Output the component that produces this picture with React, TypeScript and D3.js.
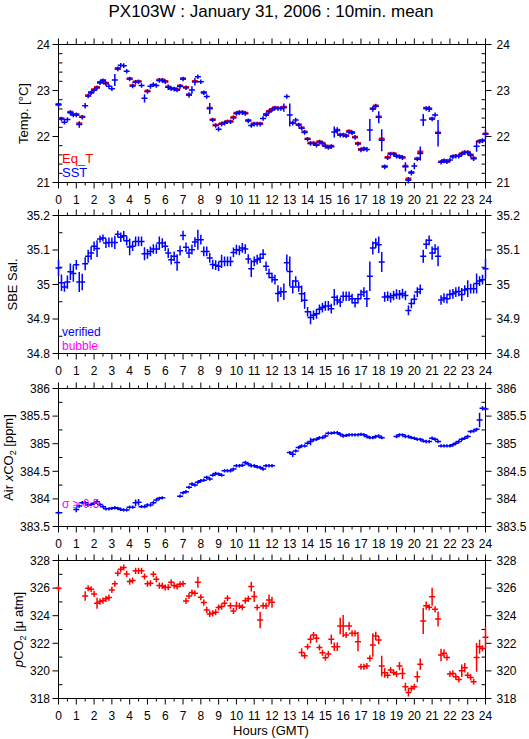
import React from "react";
import * as d3 from "d3";

// ---------- data (10-minute means, index i -> hour i/6) ----------
const STEP_MIN = 10;

const HOUR_TICKS = [0,1,2,3,4,5,6,7,8,9,10,11,12,13,14,15,16,17,18,19,20,21,22,23,24];
const TEMP_TICKS = [21, 22, 23, 24];
const SAL_TICKS = [34.8, 34.9, 35, 35.1, 35.2];
const XCO2_TICKS = [383.5, 384, 384.5, 385, 385.5, 386];
const PCO2_TICKS = [318, 320, 322, 324, 326, 328];

const SST: (number | null)[] = [
  22.69,22.38,22.31,22.37,22.52,22.47,22.47,22.26,22.42,22.67,22.88,22.95,23.01,23.06,23.17,23.21,23.15,23.09,23.04,23.23,
  23.47,23.55,23.54,23.42,23.25,23.10,23.18,23.19,23.11,22.83,22.98,23.09,23.13,23.11,23.22,23.22,23.19,23.07,23.04,23.03,
  23.01,23.09,23.25,23.06,22.90,23.01,23.19,23.30,23.19,22.95,22.87,22.61,22.36,22.24,22.16,22.27,22.29,22.32,22.32,22.41,
  22.50,22.52,22.52,22.50,22.34,22.24,22.27,22.27,22.27,22.39,22.47,22.54,22.58,22.62,22.61,22.61,22.63,22.87,22.47,22.29,
  22.36,22.25,22.18,22.09,21.94,21.85,21.85,21.81,21.88,21.85,21.79,21.76,21.78,22.10,22.13,22.03,22.03,22.01,22.10,22.08,
  21.98,21.84,21.71,21.73,21.72,22.14,22.60,22.66,22.42,21.92,21.34,21.54,21.62,21.62,21.57,21.56,21.54,21.34,21.05,21.21,
  21.36,21.51,21.63,22.36,22.61,22.60,22.38,22.47,22.07,21.44,21.47,21.45,21.49,21.56,21.57,21.57,21.62,21.65,21.65,21.59,
  21.52,21.79,21.89,21.91,22.05,
];
const EQ_T: (number | null)[] = [
  22.70,22.39,null,null,22.53,22.48,22.48,22.28,22.43,null,22.89,22.96,23.02,23.07,23.18,23.22,23.16,null,null,null,
  23.48,null,null,null,23.26,23.11,23.19,23.20,null,null,22.99,null,null,null,23.23,23.23,23.20,23.08,23.05,23.04,
  23.02,23.10,23.26,23.07,22.91,null,23.20,null,null,22.96,null,22.62,22.37,22.25,null,22.28,22.30,22.33,22.33,22.42,
  22.51,22.53,22.53,22.51,22.35,null,22.28,22.28,22.28,null,22.48,22.55,22.59,22.63,22.62,22.62,22.64,null,null,22.30,
  null,22.26,22.19,22.10,21.95,21.86,21.86,21.82,21.89,21.86,21.80,21.77,21.79,null,22.14,22.04,22.04,22.02,22.12,22.09,
  21.99,21.85,21.72,21.74,null,null,22.61,22.67,22.43,21.95,21.35,21.55,21.63,21.63,21.58,21.57,21.55,21.36,21.08,21.22,
  null,21.52,21.67,null,22.62,22.61,22.39,null,22.08,21.45,21.48,21.46,null,21.57,21.58,21.58,21.63,21.66,21.66,21.60,
  21.53,null,21.90,21.92,22.06,
];
const SST_ERR_DEFAULT = 0.05;
const SST_ERR_BIG: [number, number][] = [
  [7,0.07],[9,0.06],[19,0.13],[29,0.09],[37,0.06],[44,0.06],[45,0.08],[46,0.08],[51,0.12],
  [76,0.09],[78,0.25],[93,0.12],[94,0.07],[105,0.24],[106,0.06],[108,0.13],[109,0.24],[117,0.1],
  [118,0.07],[119,0.06],[120,0.07],[122,0.15],[123,0.13],[125,0.07],[128,0.29],[141,0.12],[144,0.1],
];

const SAL: (number | null)[] = [
  35.048,35.005,34.993,35.007,35.037,35.032,35.057,35.007,35.007,35.060,35.082,35.091,35.111,35.104,35.132,35.135,35.120,35.122,35.122,35.122,
  35.146,35.137,35.141,35.127,35.109,35.111,35.125,35.125,35.125,35.089,35.089,35.096,35.103,35.103,35.120,35.120,35.111,35.091,35.072,35.082,
  35.064,35.098,35.142,35.108,35.091,35.101,35.123,35.130,35.130,35.096,35.096,35.077,35.058,35.056,35.053,35.067,35.067,35.067,35.067,35.093,
  35.101,35.099,35.106,35.103,35.074,35.046,35.067,35.072,35.076,35.088,35.053,35.032,35.020,35.014,34.974,34.978,34.979,35.063,35.038,34.993,
  35.010,34.993,34.973,34.954,34.921,34.904,34.911,34.915,34.928,34.933,34.938,34.938,34.930,34.963,34.955,34.949,34.966,34.966,34.966,34.959,
  34.947,34.959,34.971,34.978,34.959,35.024,35.106,35.120,35.115,35.065,34.964,34.966,34.962,34.968,34.972,34.970,34.974,34.968,34.925,34.945,
  34.957,34.978,34.986,35.082,35.117,35.128,35.091,35.103,35.082,34.955,34.961,34.959,34.971,34.973,34.978,34.980,34.971,34.984,34.988,34.988,
  34.988,35.003,35.010,35.014,35.046,
];
const SAL_ERR_DEFAULT = 0.014;
const SAL_ERR_BIG: [number, number][] = [
  [0,0.024],[1,0.024],[3,0.019],[4,0.024],[5,0.024],[7,0.029],[8,0.024],[9,0.019],[10,0.019],[11,0.019],
  [13,0.024],[14,0.01],[15,0.01],[19,0.019],[20,0.01],[24,0.024],[29,0.019],[34,0.019],[40,0.024],[47,0.029],
  [55,0.019],[65,0.024],[74,0.024],[76,0.024],[77,0.024],[78,0.043],[79,0.019],[82,0.024],[83,0.024],[85,0.019],
  [93,0.024],[104,0.024],[105,0.043],[106,0.019],[108,0.024],[109,0.029],[123,0.019],[126,0.019],[128,0.029],
  [136,0.019],[138,0.024],[141,0.029],[144,0.029],
];

const XCO2: (number | null)[] = [
  383.75,null,null,null,null,null,383.81,383.87,383.93,383.93,383.89,383.90,383.92,383.95,383.90,383.86,383.82,383.82,383.83,383.84,
  383.83,383.81,383.80,383.80,383.85,383.85,383.93,383.94,383.86,383.86,383.89,383.89,383.93,383.98,384.01,384.02,null,null,null,null,
  null,384.05,384.11,384.13,384.21,384.27,384.25,384.30,384.33,384.34,384.39,384.36,384.43,384.46,384.45,384.43,384.51,384.51,384.51,384.54,
  384.60,384.60,384.61,384.66,384.63,384.60,384.60,384.58,384.57,384.54,384.60,384.60,384.60,null,null,null,null,null,384.84,384.81,
  384.87,384.93,384.96,384.96,385.01,385.04,385.07,385.08,385.11,385.11,385.14,385.19,385.19,385.20,385.20,385.17,385.14,385.15,385.16,385.16,
  385.16,385.16,385.17,385.16,385.13,385.11,385.11,385.13,385.14,385.11,null,null,null,null,385.13,385.16,385.16,385.13,385.13,385.11,
  385.10,385.08,385.08,385.05,385.04,385.04,385.10,385.08,385.04,384.96,384.96,384.96,384.96,384.98,385.01,385.04,385.08,385.10,385.13,385.22,
  385.23,385.26,385.43,385.64,385.63,
];
const XCO2_ERR_DEFAULT = 0.03;
const XCO2_ERR_BIG: [number, number][] = [
  [6,0.05],[26,0.06],[27,0.06],[79,0.05],[85,0.07],[142,0.13],[143,0.04],
];

const PCO2: (number | null)[] = [
  325.99,null,null,null,null,null,null,null,null,325.43,325.99,325.92,325.58,324.90,325.02,325.09,325.22,325.31,325.87,326.31,
  327.08,327.37,327.49,327.03,326.47,326.55,327.25,327.25,327.25,326.84,326.31,326.35,327.01,326.64,326.18,326.16,326.04,326.06,326.43,326.18,
  326.11,326.28,326.31,325.07,325.43,325.68,325.63,326.43,325.34,324.95,324.42,324.13,324.17,324.25,324.59,324.66,324.90,325.26,324.73,324.34,
  324.71,324.71,324.61,325.09,325.22,326.11,325.39,324.59,323.69,324.73,324.71,325.14,324.97,null,null,null,null,null,null,null,
  null,null,321.34,321.10,321.75,322.29,322.60,322.36,321.70,321.32,320.95,321.22,322.29,321.75,321.75,323.25,323.25,322.60,323.25,322.72,
  322.72,322.12,320.30,320.30,320.35,320.91,321.87,322.53,322.24,320.35,319.86,319.69,320.06,319.89,319.77,320.35,319.82,318.85,318.44,318.73,
  318.85,319.57,320.49,323.62,324.73,324.61,325.38,324.46,323.76,321.15,321.27,320.98,319.77,319.82,319.57,319.38,320.01,320.23,319.69,319.53,
  319.21,320.98,321.75,321.63,322.43,
];
const PCO2_ERR_DEFAULT = 0.22;
const PCO2_ERR_BIG: [number, number][] = [
  [9,0.35],[13,0.4],[47,0.4],[60,0.3],[65,0.35],[66,0.4],[68,0.6],[71,0.4],[72,0.4],[82,0.3],[85,0.3],[87,0.3],
  [92,0.35],[93,0.3],[94,0.3],[95,0.6],[96,0.8],[98,0.3],[101,0.7],[106,0.85],[107,0.3],[108,0.3],[109,0.75],
  [110,0.35],[115,0.3],[116,0.4],[117,0.3],[118,0.3],[121,0.4],[122,0.4],[123,0.95],[124,0.3],[126,0.65],[128,0.55],
  [129,0.45],[130,0.3],[136,0.45],[137,0.35],[141,1.05],[142,0.5],[144,0.8],
];

// ---------- layout ----------
const W = 529, H = 739;
const X0 = 58.5, X1 = 485.5;
const PH = 138;
const TOPS = [44.5, 215.5, 388.5, 560.5];
const FONT = "'Liberation Sans', Arial, Helvetica, sans-serif";
const RED = "#ff0000", BLUE = "#0000ff", MAGENTA = "#ff00ff";

const x = d3.scaleLinear().domain([0, 24]).range([X0, X1]);
const hourOf = (i: number) => (i * STEP_MIN) / 60;
const HALF_W = 3;

function errArray(n: number, def: number, big: [number, number][]) {
  const m = new Map(big);
  return d3.range(n).map((i) => (m.has(i) ? (m.get(i) as number) : def));
}

type YS = d3.ScaleLinear<number, number>;

function Crosses({ values, errs, y, color, hw = 1.5, vw = 1.5 }: { values: (number | null)[]; errs: number[]; y: YS; color: string; hw?: number; vw?: number }) {
  let h = "", v = "";
  values.forEach((val, i) => {
    if (val == null) return;
    const cx = x(hourOf(i));
    const cy = y(val);
    h += `M${cx - HALF_W},${cy}H${cx + HALF_W}`;
    v += `M${cx},${y(val - errs[i])}V${y(val + errs[i])}`;
  });
  return (
    <g>
      <path d={h} stroke={color} strokeWidth={hw} fill="none" />
      <path d={v} stroke={color} strokeWidth={vw} fill="none" />
    </g>
  );
}

function Bars({ values, y, color, w = 2.6 }: { values: (number | null)[]; y: YS; color: string; w?: number }) {
  let h = "";
  values.forEach((val, i) => {
    if (val == null) return;
    const cx = x(hourOf(i));
    h += `M${cx - HALF_W},${y(val)}H${cx + HALF_W}`;
  });
  return <path d={h} stroke={color} strokeWidth={w} fill="none" />;
}

function Panel({ top, y, ticks, minor, label, labelX }: { top: number; y: YS; ticks: number[]; minor: number; label: React.ReactNode; labelX: number }) {
  const bottom = top + PH;
  const [d0, d1] = y.domain();
  const minors: number[] = [];
  for (let v = d0; v <= d1 + 1e-9; v += minor) {
    const r = Math.round(v * 1000) / 1000;
    if (!ticks.some((t) => Math.abs(t - r) < 1e-6)) minors.push(r);
  }
  const halfHours = d3.range(0, 24).map((h) => h + 0.5);
  return (
    <g>
      <rect x={X0} y={top} width={X1 - X0} height={PH} fill="none" stroke="#000" strokeWidth={1} />
      {HOUR_TICKS.map((h) => (
        <g key={"h" + h}>
          <line x1={x(h)} x2={x(h)} y1={top} y2={top - 6} stroke="#000" />
          <line x1={x(h)} x2={x(h)} y1={bottom} y2={bottom + 6} stroke="#000" />
          <text x={x(h)} y={bottom + 21} textAnchor="middle" fontSize={12} fontFamily={FONT}>{h}</text>
        </g>
      ))}
      {halfHours.map((h) => (
        <g key={"hh" + h}>
          <line x1={x(h)} x2={x(h)} y1={top} y2={top - 3} stroke="#000" />
          <line x1={x(h)} x2={x(h)} y1={bottom} y2={bottom + 3} stroke="#000" />
        </g>
      ))}
      {ticks.map((t) => (
        <g key={"t" + t}>
          <line x1={X0} x2={X0 - 6} y1={y(t)} y2={y(t)} stroke="#000" />
          <line x1={X1} x2={X1 + 6} y1={y(t)} y2={y(t)} stroke="#000" />
          <text x={50} y={y(t)} dy="0.36em" textAnchor="end" fontSize={12} fontFamily={FONT}>{String(t)}</text>
          <text x={496.5} y={y(t)} dy="0.36em" textAnchor="start" fontSize={12} fontFamily={FONT}>{String(t)}</text>
        </g>
      ))}
      {minors.map((t) => (
        <g key={"m" + t}>
          <line x1={X0} x2={X0 + 4} y1={y(t)} y2={y(t)} stroke="#000" />
          <line x1={X1} x2={X1 - 4} y1={y(t)} y2={y(t)} stroke="#000" />
        </g>
      ))}
      <text transform={`translate(${labelX},${top + PH / 2}) rotate(-90)`} textAnchor="middle" fontSize={13} fontFamily={FONT}>{label}</text>
    </g>
  );
}

export default function App() {
  const n = SST.length;
  const yT = d3.scaleLinear().domain([21, 24]).range([TOPS[0] + PH, TOPS[0]]);
  const yS = d3.scaleLinear().domain([34.8, 35.2]).range([TOPS[1] + PH, TOPS[1]]);
  const yX = d3.scaleLinear().domain([383.5, 386]).range([TOPS[2] + PH, TOPS[2]]);
  const yP = d3.scaleLinear().domain([318, 328]).range([TOPS[3] + PH, TOPS[3]]);

  const sstErr = errArray(n, SST_ERR_DEFAULT, SST_ERR_BIG);
  const salErr = errArray(n, SAL_ERR_DEFAULT, SAL_ERR_BIG);
  const xErr = errArray(n, XCO2_ERR_DEFAULT, XCO2_ERR_BIG);
  const pErr = errArray(n, PCO2_ERR_DEFAULT, PCO2_ERR_BIG);

  return (
    <div style={{ position: "absolute", left: 0, top: 0 }}>
      <svg width={W} height={H} viewBox={`0 0 ${W} ${H}`} style={{ display: "block", background: "#fff" }}>
        <rect width={W} height={H} fill="#fff" />
        <text x={271} y={17} textAnchor="middle" fontSize={17} fontFamily={FONT}>PX103W : January 31, 2006 : 10min. mean</text>

        <Panel top={TOPS[0]} y={yT} ticks={TEMP_TICKS} minor={0.2} labelX={28} label="Temp. [°C]" />
        <Panel top={TOPS[1]} y={yS} ticks={SAL_TICKS} minor={0.05} labelX={17} label="SBE Sal." />
        <Panel top={TOPS[2]} y={yX} ticks={XCO2_TICKS} minor={0.25} labelX={12.5}
          label={<>Air <tspan fontStyle="italic">x</tspan>CO<tspan fontSize={9} dy={3}>2</tspan><tspan dy={-3}> [ppm]</tspan></>} />
        <Panel top={TOPS[3]} y={yP} ticks={PCO2_TICKS} minor={1} labelX={22.5}
          label={<><tspan fontStyle="italic">p</tspan>CO<tspan fontSize={9} dy={3}>2</tspan><tspan dy={-3}> [μ atm]</tspan></>} />

        <Bars values={EQ_T} y={yT} color={RED} />
        <Crosses values={SST} errs={sstErr} y={yT} color={BLUE} />
        <Crosses values={SAL} errs={salErr} y={yS} color={BLUE} />
        <Crosses values={XCO2} errs={xErr} y={yX} color={BLUE} />
        <Crosses values={PCO2} errs={pErr} y={yP} color={RED} />

        <text x={62} y={163} fontSize={13} fontFamily={FONT} fill={RED}>Eq_T</text>
        <text x={62} y={177} fontSize={13} fontFamily={FONT} fill={BLUE}>SST</text>
        <text x={62} y={336} fontSize={12} fontFamily={FONT} fill={BLUE}>verified</text>
        <text x={62} y={350} fontSize={12} fontFamily={FONT} fill={MAGENTA}>bubble</text>
        <text x={62} y={508} fontSize={12} fontFamily={FONT} fill={MAGENTA}>σ ≥ 0.5</text>

        <text x={271} y={735} textAnchor="middle" fontSize={13} fontFamily={FONT}>Hours (GMT)</text>
      </svg>
    </div>
  );
}
